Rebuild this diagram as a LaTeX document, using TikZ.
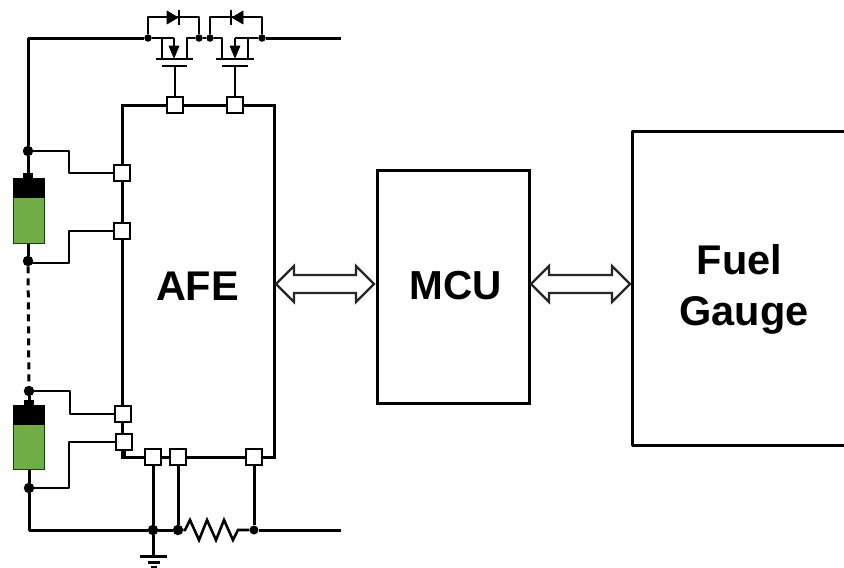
\documentclass[tikz,border=0pt]{standalone}
\usepackage{fontspec}
\setmainfont{Liberation Sans}
\tikzset{
  x=1pt,y=-1pt,
  wire/.style={line width=3pt,black,line join=round},
  thin wire/.style={line width=2.6pt,black,line join=round},
  pin/.style={draw=black,line width=2.3pt,fill=white,minimum size=16pt,inner sep=0pt,rectangle},
  dot/.style={circle,fill=black,inner sep=0pt,minimum size=10.5pt},
  block/.style={draw=black,line width=3pt,fill=white,rectangle,inner sep=0pt},
  label text/.style={font=\fontsize{41.5}{51}\selectfont\bfseries,align=center,inner sep=0pt},
  tri/.style={fill=black,draw=black,line width=.6pt,line join=round},
  dbl/.style={draw=black!85,line width=2.2pt,fill=white,line join=miter},
  cell/.style={draw=black!70!green,line width=1pt,fill={rgb,255:red,112;green,173;blue,71}}
}
\newcommand{\dblarrow}[3]{% x1,x2,y
  \draw[dbl] (#1,#3) -- (#1+18,#3-18) -- (#1+18,#3-9) -- (#2-18,#3-9) -- (#2-18,#3-18) -- (#2,#3)
   -- (#2-18,#3+18) -- (#2-18,#3+9) -- (#1+18,#3+9) -- (#1+18,#3+18) -- cycle;}
\begin{document}
\begin{tikzpicture}
\useasboundingbox (0,0) rectangle (844,568);
% blocks
\node[block,minimum width=152pt,minimum height=352pt] (afe) at (198,281) {};
\node[block,minimum width=152pt,minimum height=233pt] (mcu) at (453,286.5) {};
\draw[wire] (846,131) -- (632,131) -- (632,445) -- (846,445);
\node[label text] (afetext) at (197.5,286) {AFE};
\node[label text,font=\fontsize{40.5}{51}\selectfont\bfseries] (mcutext) at (456,286) {MCU};
\node[label text] (fgtext) at (744,289.5) {\hspace*{-9pt}Fuel\\Gauge};
% bus arrows
\dblarrow{276}{374}{284}
\dblarrow{531}{630}{284}
% pins
\node[pin] (pg1) at (175,105) {};
\node[pin] (pg2) at (235,105) {};
\node[pin] (pa) at (122,173) {};
\node[pin] (pb) at (122,231) {};
\node[pin] (pc) at (123,414) {};
\node[pin] (pd) at (124,442) {};
\node[pin] (pe) at (153,457) {};
\node[pin] (pf) at (178,457) {};
\node[pin] (pg) at (254,457) {};
% junctions
\node[dot] (j1) at (28,151) {};
\node[dot] (j2) at (28,261) {};
\node[dot] (j3) at (29,391) {};
\node[dot] (j4) at (29,488) {};
\node[dot] (j5) at (153,530) {};
\node[dot] (j6) at (178,530) {};
\node[dot,minimum size=9pt] (j7) at (254,530) {};
\coordinate (corner) at (28,38);
\coordinate (corner2) at (29,530);
\coordinate (outtop) at (341,38);
\coordinate (outbot) at (341,530);
% batteries
\draw[wire] (corner) -- (j1) -- (28,178);
\draw[wire] (28,243) -- (j2);
\draw[wire,dash pattern=on 7pt off 5pt] (j2) -- (j3);
\draw[wire] (j3) -- (29,405);
\draw[wire] (29,469) -- (j4) -- (corner2) -- (j5);
\fill (23,173) rectangle (33,179);
\fill (24,400) rectangle (34,406);
\draw[cell] (13.5,178) rectangle (44.5,243);
\fill (13,178) rectangle (45,198);
\draw[cell] (13.5,405) rectangle (44.5,469);
\fill (13,405) rectangle (45,425);
% cell sense wires
\draw[thin wire] (j1) -- (69,151) -- (69,173) -- (pa);
\draw[thin wire] (j2) -- (28,263) -- (69,263) -- (69,231) -- (pb);
\draw[thin wire] (j3) -- (70,391) -- (70,414) -- (pc);
\draw[thin wire] (j4) -- (69,488) -- (69,442) -- (pd);
% bottom connections
\draw[wire] (pd.south) -- (124,457) -- (pe);
\draw[wire] (pe) -- (j5);
\draw[wire] (pf) -- (j6);
\draw[wire] (pg) -- (j7);
\draw[wire] (j5) -- (j6);
\draw[thin wire,line join=miter] (j6) -- (185,530) -- (190,520) -- (199,540) -- (207,520) -- (216,540) -- (224,520) -- (233,540) -- (238,530) -- (j7);
\draw[wire] (j7) -- (outbot);
% ground
\coordinate (gnd) at (153,556);
\draw[wire] (j5) -- (gnd);
\draw[wire] (140,556) -- (167,556);
\draw[wire] (148,562) -- (160,562);
\draw[wire] (151,567) -- (157,567);
% top line and FETs
\node[dot,minimum size=7.5pt] (d1) at (148,38) {};
\node[dot,minimum size=7.5pt] (d2) at (199,38) {};
\node[dot,minimum size=7.5pt] (d3) at (210,38) {};
\node[dot,minimum size=7.5pt] (d4) at (262,38) {};
\draw[wire] (corner) -- (d1);
\draw[thin wire] (d1) -- (174,38);
\draw[thin wire] (162,38) -- (162,59);
\draw[thin wire] (187,59) -- (187,38) -- (d2) -- (d3) -- (222,38) -- (222,59);
\draw[thin wire] (235,38) -- (d4);
\draw[thin wire] (248,38) -- (248,59);
\draw[wire] (d4) -- (outtop);
\draw[thin wire] (d1) -- (148,17) -- (199,17) -- (d2);
\draw[thin wire] (d3) -- (210,17) -- (262,17) -- (d4);
% diodes
\fill[tri] (167,11) -- (178,17.5) -- (167,24) -- cycle;
\draw[thin wire] (179,10) -- (179,25);
\fill[tri] (243,11) -- (232,17.5) -- (243,24) -- cycle;
\draw[thin wire] (231,10) -- (231,25);
% gates
\draw[thin wire] (156,59) -- (193,59);
\draw[thin wire] (162,66) -- (187,66);
\draw[thin wire] (216,59) -- (254,59);
\draw[thin wire] (222,66) -- (248,66);
\coordinate (g1) at (175,66);
\coordinate (g2) at (235,66);
\draw[thin wire] (g1) -- (pg1);
\draw[thin wire] (g2) -- (pg2);
% body arrows
\draw[thin wire] (174,38) -- (174,50);
\draw[thin wire] (235,38) -- (235,50);
\fill[tri] (169,46) -- (179,46) -- (174,58) -- cycle;
\fill[tri] (230,46) -- (240,46) -- (235,58) -- cycle;
\end{tikzpicture}
\end{document}
